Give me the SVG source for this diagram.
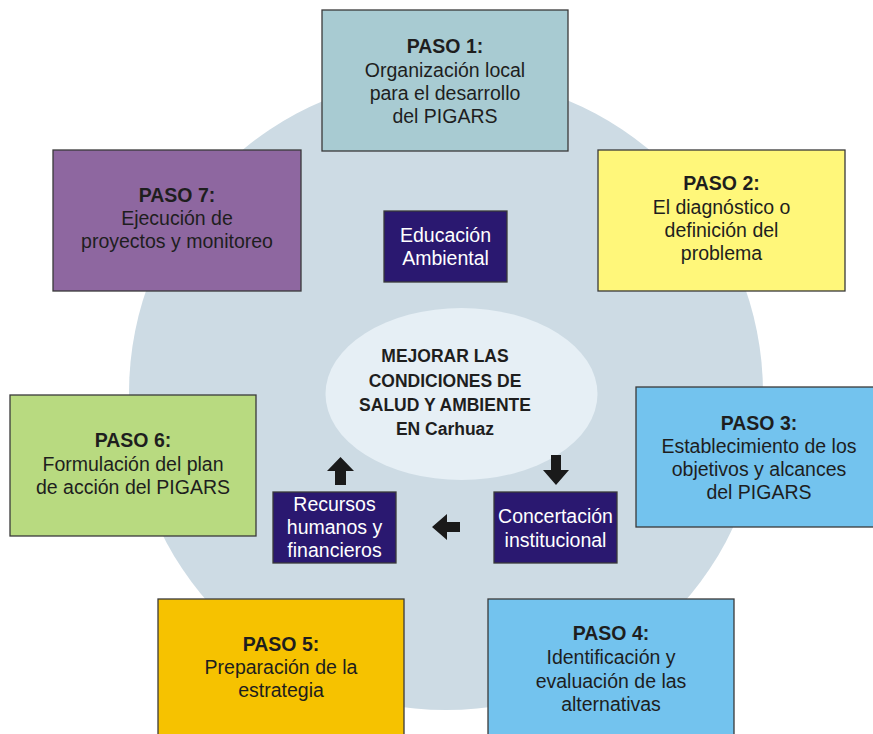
<svg xmlns="http://www.w3.org/2000/svg" width="873" height="734" viewBox="0 0 873 734">
<style>
.box{stroke:#3a3a3a;stroke-width:1.3}
.dk{fill:#2a1870;stroke:#3a3a3a;stroke-width:1.3}
text{font-family:"Liberation Sans",Arial,sans-serif;font-size:19.5px;text-anchor:middle;fill:#1e1e1e}
.b{font-weight:bold}
.c{font-size:17.5px}
.w{fill:#ffffff}
.arr{fill:#1a1a1a}
</style>
<rect width="873" height="734" fill="#ffffff"/>
<circle cx="446" cy="393" r="317" fill="#cddbe4"/>
<g id="goal">
<ellipse cx="461.5" cy="394" rx="136" ry="86" fill="#e6eff5"/>
<text class="b c" x="445" y="362">MEJORAR LAS</text>
<text class="b c" x="445" y="387">CONDICIONES DE</text>
<text class="b c" x="445" y="411">SALUD Y AMBIENTE</text>
<text class="b c" x="445" y="435">EN Carhuaz</text>
</g>
<g id="paso1">
<rect class="box" x="322" y="10" width="246" height="141" fill="#a8cbd2"/>
<text class="b" x="445" y="53">PASO 1:</text>
<text x="445" y="77">Organización local</text>
<text x="445" y="100">para el desarrollo</text>
<text x="445" y="123">del PIGARS</text>
</g>
<g id="paso2">
<rect class="box" x="598" y="150" width="247" height="141" fill="#fff77a"/>
<text class="b" x="721.5" y="190">PASO 2:</text>
<text x="721.5" y="214">El diagnóstico o</text>
<text x="721.5" y="237">definición del</text>
<text x="721.5" y="260">problema</text>
</g>
<g id="paso3">
<rect class="box" x="636" y="387" width="246" height="140" fill="#73c3ee"/>
<text class="b" x="759" y="430">PASO 3:</text>
<text x="759" y="453">Establecimiento de los</text>
<text x="759" y="476">objetivos y alcances</text>
<text x="759" y="499">del PIGARS</text>
</g>
<g id="paso4">
<rect class="box" x="488" y="599" width="246" height="145" fill="#73c3ee"/>
<text class="b" x="611" y="640">PASO 4:</text>
<text x="611" y="664">Identificación y</text>
<text x="611" y="688">evaluación de las</text>
<text x="611" y="711">alternativas</text>
</g>
<g id="paso5">
<rect class="box" x="158" y="599" width="246" height="145" fill="#f6c200"/>
<text class="b" x="281" y="651">PASO 5:</text>
<text x="281" y="674">Preparación de la</text>
<text x="281" y="697">estrategia</text>
</g>
<g id="paso6">
<rect class="box" x="10" y="395" width="246" height="141" fill="#b8da80"/>
<text class="b" x="133" y="447">PASO 6:</text>
<text x="133" y="471">Formulación del plan</text>
<text x="133" y="494">de acción del PIGARS</text>
</g>
<g id="paso7">
<rect class="box" x="53" y="150" width="248" height="141" fill="#8e67a0"/>
<text class="b" x="177" y="202">PASO 7:</text>
<text x="177" y="225">Ejecución de</text>
<text x="177" y="248">proyectos y monitoreo</text>
</g>
<g id="educacion">
<rect class="dk" x="384" y="211" width="123" height="71"/>
<text class="w" x="445.5" y="242">Educación</text>
<text class="w" x="445.5" y="265">Ambiental</text>
</g>
<g id="recursos">
<rect class="dk" x="273" y="492" width="123" height="71"/>
<text class="w" x="334.5" y="511">Recursos</text>
<text class="w" x="334.5" y="534">humanos y</text>
<text class="w" x="334.5" y="557">financieros</text>
</g>
<g id="concertacion">
<rect class="dk" x="494" y="492" width="123" height="71"/>
<text class="w" x="555.5" y="523">Concertación</text>
<text class="w" x="555.5" y="547">institucional</text>
</g>
<g id="connectors">
<polygon class="arr" points="340.5,457 354,471 346,471 346,485 335,485 335,471 327,471"/>
<polygon class="arr" points="551,455 561,455 561,470 569,470 556,485 543,470 551,470"/>
<polygon class="arr" points="432,527 447,514 447,522 460,522 460,532 447,532 447,540"/>
</g>
</svg>
